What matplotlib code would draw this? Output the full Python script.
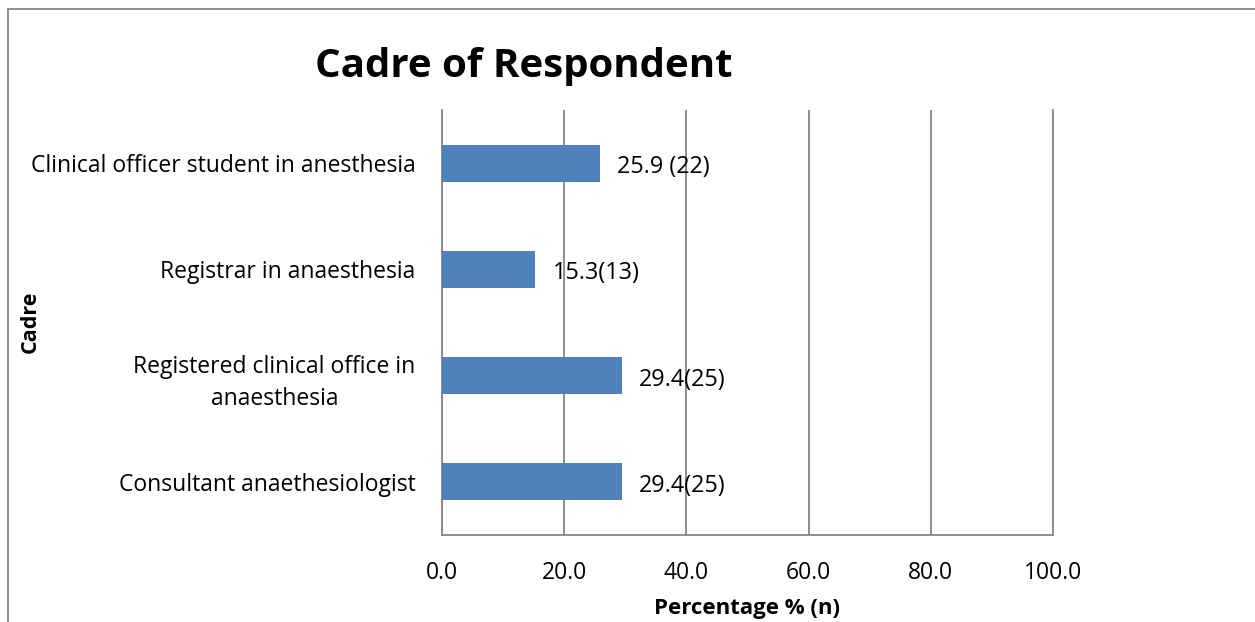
import matplotlib
matplotlib.use("Agg")
import matplotlib.pyplot as plt
from matplotlib.lines import Line2D

plt.rcParams['font.family'] = ['Open Sans', 'DejaVu Sans']

categories = ["Consultant anaethesiologist",
              "Registered clinical office in\nanaesthesia",
              "Registrar in anaesthesia",
              "Clinical officer student in anesthesia"]
values = [29.4, 29.4, 15.3, 25.9]
labels = ["29.4(25)", "29.4(25)", "15.3(13)", "25.9 (22)"]
xticks = [0, 20, 40, 60, 80, 100]

W, H = 1255, 622
fig = plt.figure(figsize=(W / 100, H / 100), dpi=100)
ax = fig.add_axes([442 / W, 1 - 535 / H, (1053 - 442) / W, (535 - 110) / H])

grid_c = "#868686"
fs = 16.5
ypos = list(range(len(categories)))
ax.barh(ypos, values, height=0.35, color="#4f81bd", zorder=3)
for y, v, t in zip(ypos, values, labels):
    ax.annotate(t, (v, y), xytext=(17, -4), textcoords="offset pixels",
                va="center", ha="left", fontsize=fs + 0.3, color="black", zorder=5)

ax.set_xlim(0, 100)
ax.set_ylim(-0.5, len(categories) - 0.5)
ax.set_xticks(xticks)
ax.set_xticklabels([f"{x:.1f}" for x in xticks], fontsize=fs)
ax.set_yticks(ypos)
ax.set_yticklabels(categories, fontsize=fs, ha="right", multialignment="center",
                   linespacing=1.45)
ax.tick_params(axis="y", length=0, pad=19)
ax.tick_params(axis="x", length=0, pad=19)
ax.grid(axis="x", color=grid_c, linewidth=1.3, zorder=1)
ax.spines["top"].set_visible(False)
for s in ["left", "bottom", "right"]:
    ax.spines[s].set_color(grid_c)
    ax.spines[s].set_linewidth(1.3)

ax.set_xlabel("Percentage % (n)", fontsize=16, fontweight="bold", labelpad=9)
fig.text(30 / W, 1 - 322 / H, "Cadre", rotation=90, fontsize=15.5,
         fontweight="bold", ha="center", va="center")
fig.text(524 / W, 1 - 66 / H, "Cadre of Respondent", fontsize=29,
         fontweight="bold", ha="center", va="center")

# outer chart frame
fig.add_artist(Line2D([8 / W, 8 / W], [0, 1 - 9 / H], color=grid_c, lw=1.3,
                      transform=fig.transFigure))
fig.add_artist(Line2D([8 / W, 1], [1 - 9 / H, 1 - 9 / H], color=grid_c, lw=1.3,
                      transform=fig.transFigure))

fig.savefig("out.png", dpi=100)
